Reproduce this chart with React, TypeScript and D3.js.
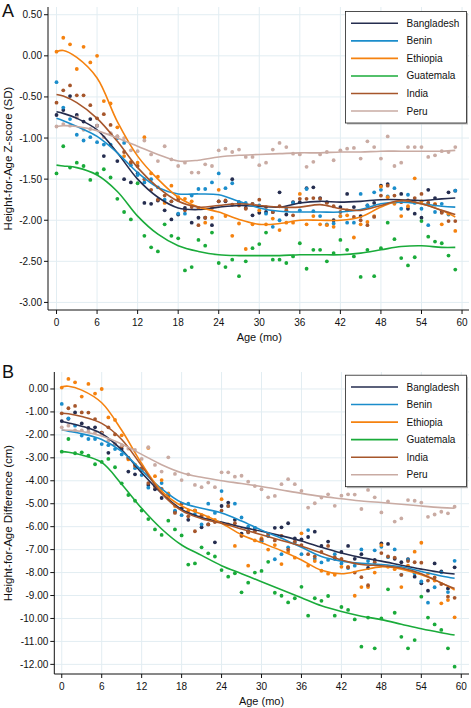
import React from "react";
import * as d3 from "d3";

// ---------- categories ----------
const countries = ["Bangladesh", "Benin", "Ethiopia", "Guatemala", "India", "Peru"];
const countryColors = ["#252d4f", "#1b8dcb", "#f5820f", "#1aab3a", "#a6562b", "#c9aba3"];
const ages = d3.range(60); // 0..59 months
const fitAges = [0, 1, 3, 6, 9, 12, 15, 18, 21, 24, 27, 30, 33, 36, 39, 42, 45, 48, 51, 54, 57, 59];

// ---------- Panel A: Height-for-age Z-score (SD), monthly means ----------
const zBangladesh = [-0.72,-0.66,-0.49,-0.72,-0.8,-0.77,-0.85,-1.22,-0.95,-1.28,-1.5,-1.54,-1.43,-1.79,-1.8,-1.76,-1.88,-1.99,-1.93,-1.85,-2.03,-1.97,-1.97,-2.06,-1.77,-1.77,-1.5,-1.78,-1.85,-1.94,-1.91,-1.9,-1.9,-1.66,-1.93,-1.78,-1.78,-1.61,-1.6,-1.73,-1.78,-2.0,-1.84,-1.68,-1.84,-1.95,-1.82,-1.79,-1.58,-1.56,-1.79,-1.68,-1.86,-1.92,-1.97,-1.63,-1.73,-1.9,-1.66,-1.64];
const zBenin = [-0.32,-0.63,-0.77,-0.96,-1.03,-0.99,-1.05,-1.08,-1.08,-1.0,-1.06,-1.33,-1.45,-1.54,-1.5,-1.6,-1.75,-1.77,-1.92,-1.92,-1.7,-1.62,-1.62,-1.54,-1.43,-1.61,-1.55,-1.79,-1.79,-1.8,-1.82,-1.92,-2.08,-2.0,-1.85,-1.79,-1.88,-1.62,-1.89,-1.95,-2.05,-2.04,-1.95,-2.03,-2.03,-1.68,-1.82,-1.66,-1.63,-1.71,-1.61,-1.86,-1.69,-1.79,-1.86,-2.06,-1.9,-1.8,-1.93,-1.64];
const zEthiopia = [0.05,0.22,0.14,-0.16,0.11,-0.08,0.0,-0.55,-0.58,-0.87,-1.22,-1.29,-1.3,-0.99,-1.43,-1.47,-1.79,-1.58,-1.72,-1.74,-1.77,-1.85,-2.03,-1.97,-1.63,-1.95,-2.19,-2.04,-2.35,-2.05,-1.88,-2.05,-1.98,-2.12,-2.03,-2.03,-1.68,-2.05,-1.95,-2.05,-2.06,-2.08,-1.95,-1.94,-2.21,-2.05,-2.02,-1.95,-1.59,-1.72,-1.8,-1.95,-1.83,-1.49,-1.77,-1.79,-1.8,-2.05,-1.92,-2.13];
const zGuatemala = [-1.43,-1.1,-1.36,-1.3,-1.34,-1.51,-1.43,-1.38,-1.48,-1.74,-1.9,-1.99,-1.55,-2.19,-2.33,-2.38,-2.05,-2.19,-2.22,-2.61,-2.57,-2.24,-2.31,-2.15,-2.52,-2.57,-2.48,-2.68,-2.5,-2.34,-2.29,-2.15,-2.48,-2.48,-2.52,-2.44,-2.28,-2.59,-2.36,-2.36,-2.5,-2.4,-2.24,-2.36,-2.44,-2.69,-2.36,-2.68,-2.34,-2.03,-2.23,-2.46,-2.55,-2.45,-2.01,-2.2,-2.26,-2.28,-2.43,-2.6];
const zIndia = [-0.57,-0.42,-0.36,-0.48,-0.48,-0.6,-0.76,-0.71,-0.84,-0.98,-1.17,-1.3,-1.34,-1.5,-1.63,-1.75,-1.7,-1.77,-1.75,-1.88,-1.84,-2.06,-1.97,-1.85,-1.77,-1.76,-1.81,-1.82,-1.86,-1.8,-1.75,-1.84,-1.9,-1.83,-1.88,-1.94,-1.74,-1.74,-1.73,-1.74,-1.79,-1.83,-1.9,-1.88,-1.96,-2.0,-2.06,-1.96,-1.7,-1.58,-1.7,-1.78,-1.76,-1.73,-1.68,-1.79,-1.81,-1.91,-2.01,-2.01];
const zPeru = [-0.86,-0.83,-0.85,-0.75,-0.9,-0.89,-0.85,-0.99,-0.94,-0.98,-1.0,-1.15,-1.16,-1.03,-1.2,-1.28,-1.1,-1.26,-1.34,-1.3,-1.42,-1.42,-1.32,-1.34,-1.15,-1.13,-1.17,-1.14,-1.23,-1.23,-1.33,-1.3,-1.14,-1.06,-1.11,-1.19,-1.2,-1.35,-1.29,-1.2,-1.17,-1.27,-1.15,-1.13,-1.12,-1.25,-1.04,-1.11,-1.25,-0.98,-1.34,-1.3,-1.11,-1.11,-1.11,-1.23,-1.21,-1.16,-1.17,-1.11];

// smoothed fits (Z-score) at fitAges
const zFitBangladesh = [-0.68,-0.7,-0.76,-0.9,-1.18,-1.5,-1.72,-1.85,-1.87,-1.84,-1.82,-1.83,-1.84,-1.79,-1.77,-1.78,-1.77,-1.75,-1.75,-1.76,-1.74,-1.73];
const zFitBenin = [-0.76,-0.79,-0.86,-0.98,-1.18,-1.42,-1.6,-1.68,-1.68,-1.69,-1.77,-1.85,-1.89,-1.9,-1.9,-1.9,-1.87,-1.8,-1.78,-1.8,-1.83,-1.84];
const zFitEthiopia = [0.05,0.065,-0.02,-0.27,-0.8,-1.22,-1.5,-1.72,-1.84,-1.9,-1.99,-2.05,-2.04,-2.0,-2.0,-2.0,-1.96,-1.84,-1.76,-1.8,-1.88,-1.96];
const zFitGuatemala = [-1.33,-1.34,-1.36,-1.45,-1.65,-1.95,-2.17,-2.31,-2.38,-2.42,-2.43,-2.43,-2.43,-2.42,-2.42,-2.42,-2.4,-2.36,-2.32,-2.31,-2.33,-2.33];
const zFitIndia = [-0.47,-0.49,-0.57,-0.76,-1.04,-1.36,-1.6,-1.77,-1.84,-1.82,-1.8,-1.82,-1.84,-1.84,-1.81,-1.86,-1.88,-1.82,-1.76,-1.8,-1.88,-1.93];
const zFitPeru = [-0.86,-0.85,-0.86,-0.91,-1.0,-1.1,-1.2,-1.28,-1.27,-1.23,-1.21,-1.2,-1.19,-1.18,-1.18,-1.17,-1.17,-1.16,-1.16,-1.16,-1.16,-1.15];

// ---------- Panel B: Height-for-age difference (cm), monthly means ----------
const dBangladesh = [-1.4,-1.3,-1.02,-1.5,-1.7,-1.67,-1.9,-2.78,-2.4,-2.6,-3.6,-3.72,-3.55,-4.18,-4.37,-4.75,-4.6,-5.35,-5.2,-5.7,-5.3,-6.03,-5.9,-6.68,-5.1,-4.95,-5.7,-6.3,-6.2,-6.05,-6.63,-6.4,-6.05,-6.03,-5.85,-6.51,-6.55,-6.45,-6.22,-6.84,-6.65,-7.4,-7.1,-6.84,-7.4,-7.2,-7.8,-7.45,-6.73,-6.75,-7.4,-7.55,-7.42,-8.18,-8.47,-8.79,-7.6,-7.95,-8.69,-7.77];
const dBenin = [-0.65,-1.28,-1.6,-2.03,-2.18,-2.18,-2.4,-2.45,-2.62,-2.85,-3.0,-3.45,-3.75,-4.3,-4.2,-4.1,-4.6,-5.3,-5.5,-5.0,-5.45,-5.9,-5.0,-5.4,-4.45,-5.1,-5.0,-5.6,-6.0,-6.05,-6.6,-6.4,-7.42,-7.2,-6.9,-6.7,-7.2,-6.15,-7.4,-7.56,-7.45,-7.2,-7.6,-7.8,-7.7,-6.99,-7.5,-7.03,-6.88,-7.33,-6.99,-8.1,-7.45,-8.03,-8.39,-9.31,-8.64,-7.99,-8.85,-7.49];
const dEthiopia = [0.06,0.44,0.29,-0.33,0.22,-0.2,0.0,-1.24,-1.35,-2.02,-3.07,-3.3,-3.5,-2.57,-3.8,-3.97,-4.55,-5.1,-5.0,-5.3,-5.3,-5.55,-5.6,-5.7,-4.8,-5.9,-6.84,-6.4,-7.7,-6.6,-6.5,-7.0,-6.8,-7.63,-7.1,-7.35,-6.29,-7.7,-7.5,-7.92,-8.05,-8.1,-7.75,-7.75,-9.01,-8.63,-8.63,-8.0,-6.8,-7.75,-7.85,-8.63,-7.7,-7.09,-6.7,-8.05,-8.35,-9.34,-9.2,-9.95];
const dGuatemala = [-2.73,-2.18,-2.8,-2.76,-2.9,-3.28,-3.18,-3.05,-3.41,-4.11,-4.62,-4.87,-5.3,-5.67,-6.12,-6.36,-5.74,-6.12,-6.38,-7.65,-7.6,-6.9,-7.16,-7.3,-7.89,-8.18,-8.03,-8.86,-8.44,-8.0,-7.93,-7.53,-8.88,-9.01,-9.3,-9.12,-8.62,-9.88,-9.12,-9.23,-9.02,-9.88,-9.5,-9.63,-10.04,-11.23,-9.96,-11.3,-10.0,-8.73,-9.75,-10.8,-11.3,-10.94,-9.05,-9.96,-10.26,-10.5,-11.3,-12.1];
const dIndia = [-1.06,-0.84,-0.74,-1.02,-1.03,-1.31,-1.9,-1.67,-1.98,-2.5,-3.0,-3.35,-3.45,-4.1,-4.25,-4.35,-4.7,-5.4,-5.0,-5.55,-6.2,-5.5,-5.9,-5.8,-5.3,-5.1,-5.85,-6.4,-6.25,-6.2,-6.55,-6.3,-6.6,-6.4,-7.0,-6.65,-6.8,-7.2,-7.3,-7.1,-6.84,-7.34,-7.4,-7.77,-8.0,-8.2,-8.55,-7.55,-7.15,-7.3,-7.35,-8.1,-7.5,-7.55,-7.57,-8.35,-8.21,-8.5,-9.05,-9.1];
const dPeru = [-1.67,-1.6,-1.8,-1.8,-1.85,-1.9,-1.95,-2.25,-2.4,-2.45,-2.6,-2.66,-3.05,-2.54,-3.31,-3.6,-2.98,-3.7,-3.97,-3.72,-4.18,-4.28,-4.08,-4.28,-3.63,-3.63,-3.82,-3.78,-4.04,-4.23,-4.37,-4.72,-4.66,-4.15,-3.93,-4.15,-4.44,-5.17,-4.98,-4.73,-4.59,-5.09,-4.65,-4.59,-4.6,-5.23,-4.4,-4.72,-5.38,-4.9,-5.78,-5.64,-4.84,-4.87,-4.95,-5.57,-5.47,-5.35,-5.42,-5.13];

// smoothed fits (cm) at fitAges
const dFitBangladesh = [-1.42,-1.48,-1.62,-1.95,-2.65,-3.65,-4.55,-5.25,-5.6,-5.8,-6.02,-6.2,-6.4,-6.62,-6.9,-7.15,-7.35,-7.5,-7.68,-7.85,-8.0,-8.06];
const dFitBenin = [-1.79,-1.84,-1.95,-2.2,-2.72,-3.55,-4.35,-4.95,-5.2,-5.4,-5.75,-6.15,-6.5,-6.9,-7.3,-7.5,-7.6,-7.65,-7.75,-7.95,-8.15,-8.25];
const dFitEthiopia = [0.1,0.12,-0.05,-0.6,-1.8,-3.25,-4.45,-5.1,-5.45,-5.85,-6.35,-6.7,-7.05,-7.45,-7.9,-8.05,-7.9,-7.75,-7.85,-8.1,-8.45,-8.76];
const dFitGuatemala = [-2.73,-2.76,-2.88,-3.2,-4.15,-5.2,-6.1,-6.8,-7.25,-7.7,-8.05,-8.4,-8.75,-9.1,-9.45,-9.7,-9.9,-10.05,-10.25,-10.45,-10.62,-10.72];
const dFitIndia = [-1.06,-1.08,-1.2,-1.5,-2.2,-3.35,-4.55,-5.3,-5.65,-5.85,-6.1,-6.35,-6.6,-6.85,-7.15,-7.45,-7.65,-7.7,-7.8,-8.05,-8.45,-8.69];
const dFitPeru = [-1.79,-1.8,-1.85,-2.05,-2.4,-2.85,-3.3,-3.65,-3.85,-4.0,-4.12,-4.25,-4.4,-4.55,-4.68,-4.78,-4.88,-4.95,-5.02,-5.1,-5.17,-5.2];

// ---------- tick labels ----------
const xTicks = [0, 6, 12, 18, 24, 30, 36, 42, 48, 54, 60];
const zTicks = [0.5, 0, -0.5, -1, -1.5, -2, -2.5, -3];
const dTicks = [0, -1, -2, -3, -4, -5, -6, -7, -8, -9, -10, -11, -12];

const zPoints = [zBangladesh, zBenin, zEthiopia, zGuatemala, zIndia, zPeru];
const zFits = [zFitBangladesh, zFitBenin, zFitEthiopia, zFitGuatemala, zFitIndia, zFitPeru];
const dPoints = [dBangladesh, dBenin, dEthiopia, dGuatemala, dIndia, dPeru];
const dFits = [dFitBangladesh, dFitBenin, dFitEthiopia, dFitGuatemala, dFitIndia, dFitPeru];

const FONT = "'Liberation Sans', Arial, Helvetica, sans-serif";

type PanelProps = {
  letter: string;
  yTitle: string;
  points: number[][];
  fits: number[][];
  yTicks: number[];
  xDomain: [number, number];
  yDomain: [number, number];
  left: number;
  right: number;
  top: number;
  bottom: number;
  letterY: number;
  legendY: number;
};

function Panel(p: PanelProps) {
  const x = d3.scaleLinear().domain(p.xDomain).range([p.left, p.right]);
  const y = d3.scaleLinear().domain(p.yDomain).range([p.bottom, p.top]);
  const line = d3
    .line<number>()
    .x((_, i) => x(fitAges[i]))
    .y((v) => y(v))
    .curve(d3.curveCatmullRom.alpha(0.5));
  const fmt = (v: number) => v.toFixed(2);
  const grid = "#e2edf2";
  return (
    <g>
      <text x={2} y={p.letterY} fontSize={18} fontFamily={FONT} fill="#111">
        {p.letter}
      </text>
      {/* grid */}
      {p.yTicks.map((t) => (
        <line key={"gy" + t} x1={p.left} x2={p.right} y1={y(t)} y2={y(t)} stroke={grid} strokeWidth={1} />
      ))}
      {xTicks.map((t) => (
        <line key={"gx" + t} x1={x(t)} x2={x(t)} y1={p.top} y2={p.bottom} stroke={grid} strokeWidth={1} />
      ))}
      {/* points */}
      {p.points.map((series, ci) =>
        series.map((v, i) => (
          <circle key={ci + "-" + i} cx={x(ages[i])} cy={y(v)} r={1.9} fill={countryColors[ci]} />
        ))
      )}
      {/* fitted lines */}
      {p.fits.map((f, ci) => (
        <path key={"f" + ci} d={line(f) || ""} fill="none" stroke={countryColors[ci]} strokeWidth={1.6} />
      ))}
      {/* axes */}
      <line x1={p.left} x2={p.left} y1={p.top} y2={p.bottom} stroke="#111" strokeWidth={1} />
      <line x1={p.left} x2={p.right} y1={p.bottom} y2={p.bottom} stroke="#111" strokeWidth={1} />
      {p.yTicks.map((t) => (
        <g key={"yt" + t}>
          <line x1={p.left - 4} x2={p.left} y1={y(t)} y2={y(t)} stroke="#111" />
          <text x={p.left - 6} y={y(t)} dy="0.35em" textAnchor="end" fontSize={10} fontFamily={FONT} fill="#111">
            {fmt(t)}
          </text>
        </g>
      ))}
      {xTicks.map((t) => (
        <g key={"xt" + t}>
          <line x1={x(t)} x2={x(t)} y1={p.bottom} y2={p.bottom + 4} stroke="#111" />
          <text x={x(t)} y={p.bottom + 16} textAnchor="middle" fontSize={10} fontFamily={FONT} fill="#111">
            {t}
          </text>
        </g>
      ))}
      <text x={(x(0) + x(60)) / 2} y={p.bottom + 31} textAnchor="middle" fontSize={11} fontFamily={FONT} fill="#111">
        Age (mo)
      </text>
      <text
        transform={`translate(12,${(p.top + p.bottom) / 2}) rotate(-90)`}
        textAnchor="middle"
        fontSize={11.5}
        fontFamily={FONT}
        fill="#111"
      >
        {p.yTitle}
      </text>
      {/* legend */}
      <g transform={`translate(345.5,${p.legendY})`}>
        <rect x={1.5} y={1.5} width={121} height={111.5} fill="#bbb" />
        <rect x={0} y={0} width={121} height={111.5} fill="#fff" stroke="#222" strokeWidth={0.8} />
        {countries.map((c, i) => (
          <g key={c} transform={`translate(0,${11.8 + i * 17.55})`}>
            <line x1={5.5} x2={52.5} y1={0} y2={0} stroke={countryColors[i]} strokeWidth={1.6} />
            <text x={61} y={0} dy="0.35em" fontSize={10} fontFamily={FONT} fill="#111">
              {c}
            </text>
          </g>
        ))}
      </g>
    </g>
  );
}

export default function App() {
  return (
    <svg width={471} height={708} style={{ position: "absolute", left: 0, top: 0, background: "#fff" }}>
      <rect width={471} height={708} fill="#fff" />
      <Panel
        letter="A"
        yTitle="Height-for-Age Z-score (SD)"
        points={zPoints}
        fits={zFits}
        yTicks={zTicks}
        xDomain={[-1.26, 61.03]}
        yDomain={[-3.092, 0.594]}
        left={48}
        right={469}
        top={7}
        bottom={310}
        letterY={17}
        legendY={11.5}
      />
      <Panel
        letter="B"
        yTitle="Height-for-Age Difference (cm)"
        points={dPoints}
        fits={dFits}
        yTicks={dTicks}
        xDomain={[-1.12, 61.16]}
        yDomain={[-12.42, 0.74]}
        left={54.3}
        right={469}
        top={372}
        bottom={674}
        letterY={378}
        legendY={375.2}
      />
    </svg>
  );
}
